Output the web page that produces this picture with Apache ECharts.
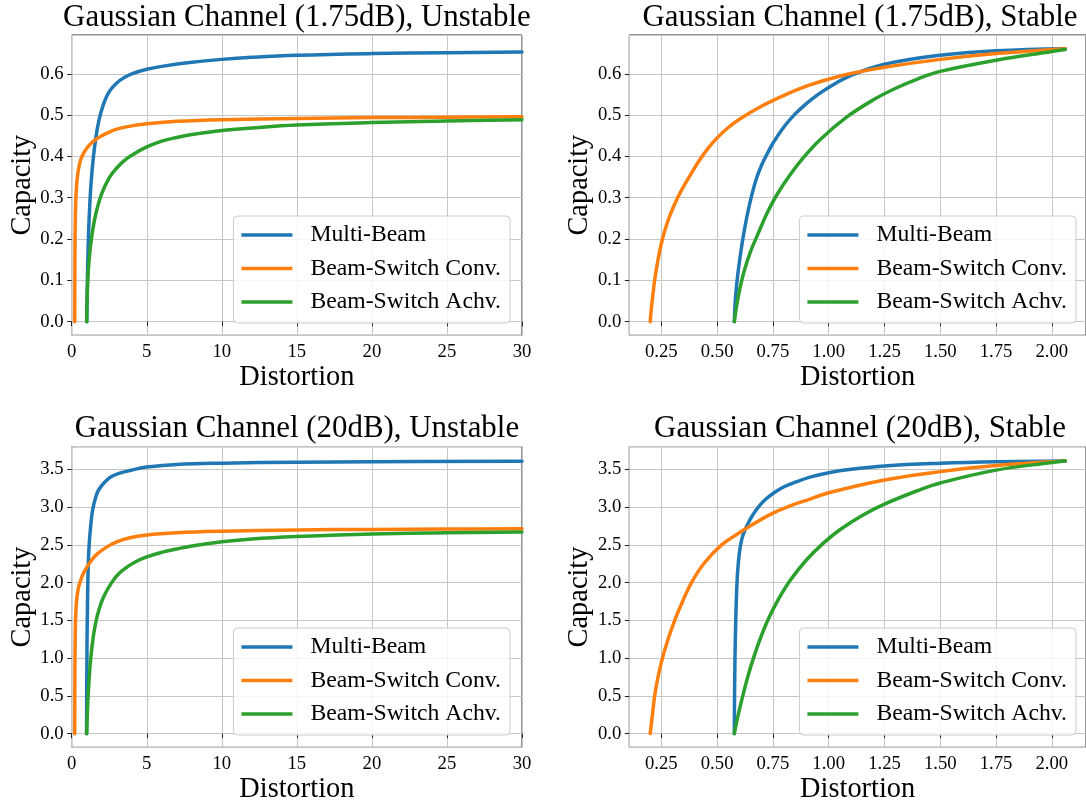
<!DOCTYPE html>
<html>
<head>
<meta charset="utf-8">
<script src="https://cdn.jsdelivr.net/npm/echarts@6/dist/echarts.min.js"></script>
<style>
html,body{margin:0;padding:0;background:#fff;}
#chart{width:1086px;height:806px;}
</style>
</head>
<body>
<div id="chart"></div>
<script>
// ---------------- data ----------------
const seriesNames = ['Multi-Beam', 'Beam-Switch Conv.', 'Beam-Switch Achv.'];
const panelTitles = [
  'Gaussian Channel (1.75dB), Unstable',
  'Gaussian Channel (1.75dB), Stable',
  'Gaussian Channel (20dB), Unstable',
  'Gaussian Channel (20dB), Stable'
];
const xAxisName = 'Distortion';
const yAxisName = 'Capacity';

// Panel 1: 1.75dB, Unstable  [distortion, capacity]
const lowUnstableMulti = [[1.0,0],[1.03,0.07],[1.07,0.14],[1.12,0.21],[1.2,0.28],[1.3,0.34],[1.45,0.4],[1.6,0.443],[1.8,0.485],[2.1,0.525],[2.5,0.557],[3,0.578],[3.5,0.591],[4,0.6],[5,0.611],[6,0.618],[8,0.628],[10,0.635],[12,0.64],[15,0.645],[20,0.649],[25,0.651],[30,0.653]];
const lowUnstableConv = [[0.2,0],[0.205,0.06],[0.21,0.11],[0.22,0.18],[0.24,0.245],[0.27,0.29],[0.3,0.315],[0.35,0.34],[0.42,0.362],[0.5,0.378],[0.6,0.392],[0.75,0.405],[1.0,0.42],[1.3,0.432],[1.6,0.441],[2.0,0.45],[2.5,0.459],[3,0.466],[4,0.474],[5,0.479],[7,0.485],[10,0.489],[15,0.492],[20,0.494],[25,0.495],[30,0.496]];
const lowUnstableAchv = [[1.0,0],[1.02,0.04],[1.05,0.08],[1.1,0.12],[1.2,0.165],[1.35,0.21],[1.6,0.26],[2.0,0.31],[2.5,0.348],[3.0,0.372],[3.5,0.39],[4.0,0.403],[5,0.423],[6,0.437],[7,0.446],[8,0.453],[10,0.463],[12,0.469],[15,0.476],[20,0.482],[25,0.486],[30,0.489]];

// Panel 2: 1.75dB, Stable
const lowStableMulti = [[0.577,0],[0.58,0.04],[0.585,0.075],[0.595,0.125],[0.612,0.19],[0.63,0.245],[0.65,0.295],[0.675,0.345],[0.7,0.38],[0.725,0.407],[0.75,0.432],[0.8,0.472],[0.85,0.503],[0.9,0.528],[0.95,0.549],[1.0,0.567],[1.1,0.596],[1.25,0.623],[1.5,0.645],[1.75,0.656],[2.06,0.661]];
const lowStableConv = [[0.2,0],[0.205,0.03],[0.21,0.055],[0.22,0.1],[0.235,0.15],[0.255,0.2],[0.28,0.245],[0.31,0.285],[0.34,0.318],[0.38,0.355],[0.42,0.39],[0.46,0.42],[0.5,0.445],[0.55,0.47],[0.6,0.49],[0.7,0.522],[0.8,0.548],[0.9,0.57],[1.0,0.587],[1.1,0.601],[1.25,0.616],[1.5,0.635],[1.75,0.649],[2.06,0.661]];
const lowStableAchv = [[0.577,0],[0.585,0.03],[0.6,0.075],[0.62,0.12],[0.65,0.17],[0.685,0.215],[0.72,0.258],[0.76,0.3],[0.82,0.35],[0.88,0.393],[0.96,0.44],[1.08,0.495],[1.2,0.537],[1.3,0.565],[1.4,0.588],[1.5,0.606],[1.75,0.633],[2.0,0.654],[2.06,0.659]];

// Panel 3: 20dB, Unstable
const highUnstableMulti = [[0.99,0],[1.0,0.5],[1.01,0.9],[1.025,1.3],[1.045,1.6],[1.07,1.95],[1.1,2.2],[1.14,2.42],[1.2,2.6],[1.28,2.78],[1.4,2.97],[1.6,3.13],[1.8,3.23],[2.2,3.33],[2.6,3.4],[3.2,3.45],[4.2,3.5],[5,3.53],[7,3.565],[10,3.582],[15,3.595],[20,3.6],[30,3.607]];
const highUnstableConv = [[0.2,0],[0.205,0.35],[0.21,0.65],[0.22,1.0],[0.24,1.35],[0.27,1.58],[0.32,1.75],[0.4,1.88],[0.5,1.97],[0.65,2.06],[0.8,2.13],[1.0,2.2],[1.3,2.29],[1.7,2.38],[2.4,2.48],[3.0,2.54],[3.8,2.59],[5,2.63],[7,2.66],[10,2.68],[15,2.698],[20,2.705],[25,2.71],[30,2.714]];
const highUnstableAchv = [[1.0,0],[1.02,0.15],[1.05,0.32],[1.11,0.55],[1.18,0.78],[1.27,1.0],[1.45,1.3],[1.69,1.55],[2.1,1.8],[2.73,2.02],[3.2,2.13],[3.65,2.2],[4.2,2.27],[5,2.34],[6,2.4],[7,2.445],[8,2.485],[10,2.54],[12,2.578],[15,2.61],[20,2.645],[25,2.66],[30,2.67]];

// Panel 4: 20dB, Stable
const highStableMulti = [[0.577,0],[0.578,0.5],[0.58,1.0],[0.583,1.45],[0.587,1.85],[0.592,2.15],[0.6,2.4],[0.61,2.57],[0.625,2.7],[0.645,2.82],[0.665,2.92],[0.69,3.02],[0.72,3.11],[0.76,3.2],[0.8,3.27],[0.85,3.33],[0.92,3.4],[1.0,3.455],[1.1,3.5],[1.25,3.545],[1.5,3.58],[1.75,3.6],[2.06,3.61]];
const highStableConv = [[0.2,0],[0.21,0.25],[0.22,0.5],[0.235,0.75],[0.255,1.0],[0.28,1.25],[0.31,1.5],[0.345,1.75],[0.385,2.0],[0.44,2.25],[0.52,2.5],[0.6,2.66],[0.653,2.76],[0.75,2.92],[0.83,3.02],[0.9,3.09],[1.0,3.19],[1.25,3.36],[1.5,3.47],[1.75,3.55],[2.06,3.61]];
const highStableAchv = [[0.577,0],[0.585,0.12],[0.6,0.32],[0.62,0.56],[0.64,0.78],[0.665,1.02],[0.695,1.27],[0.73,1.52],[0.775,1.78],[0.83,2.04],[0.9,2.3],[0.975,2.52],[1.05,2.7],[1.15,2.89],[1.25,3.04],[1.4,3.22],[1.5,3.32],[1.75,3.49],[2.0,3.59],[2.06,3.61]];

// Axis ranges and tick steps [min, max, step]
const unstableXRange = [0, 30, 5];
const stableXRange = [0.1064, 2.153, 0.25];
const lowYRange = [-0.033, 0.694, 0.1];
const highYRange = [-0.181, 3.80, 0.5];

// ---------------- chart ----------------
const colors = ['#1f77b4', '#ff7f0e', '#2ca02c'];
const FONT = 'Liberation Serif, Times New Roman, serif';

const panelData = [
  [lowUnstableMulti, lowUnstableConv, lowUnstableAchv],
  [lowStableMulti, lowStableConv, lowStableAchv],
  [highUnstableMulti, highUnstableConv, highUnstableAchv],
  [highStableMulti, highStableConv, highStableAchv]
];
const xRanges = [unstableXRange, stableXRange, unstableXRange, stableXRange];
const yRanges = [lowYRange, lowYRange, highYRange, highYRange];
const xDecimals = [0, 2, 0, 2];
const yDecimals = [1, 1, 1, 1];

const gridRects = [
  {left: 71.7, top: 35, width: 450.3, height: 300.3},
  {left: 629.3, top: 35, width: 461.7, height: 300.3},
  {left: 71.7, top: 446.7, width: 450.3, height: 300.6},
  {left: 629.3, top: 446.7, width: 461.7, height: 300.6}
];
const titlePos = [[296.9, 17.9], [860, 17.9], [296.9, 429.3], [860, 429.3]];
const legendPos = [
  {right: 576, bottom: 483},
  {right: 10, bottom: 483},
  {right: 576, bottom: 71},
  {right: 10, bottom: 71}
];

const spineColor = '#262626';
const grids = [], xAxes = [], yAxes = [], series = [], titles = [], legends = [];

function makeAxis(range, decimals, isX, gridIndex) {
  const step = range[2];
  return {
    type: 'value',
    gridIndex: gridIndex,
    min: range[0],
    max: range[1],
    minInterval: step,
    maxInterval: step,
    splitNumber: 12,
    name: isX ? xAxisName : yAxisName,
    nameLocation: 'middle',
    nameGap: isX ? 28 : 35,
    nameTextStyle: {fontFamily: FONT, fontSize: 28.4, color: '#000'},
    axisLine: {show: false},
    axisTick: {show: true, inside: false, length: 4.5, lineStyle: {color: spineColor, width: 1}},
    axisLabel: {
      show: true, margin: isX ? 7 : 8,
      fontFamily: FONT, fontSize: 18.7, color: '#000',
      showMinLabel: range[0] % step === 0,
      showMaxLabel: range[1] % step === 0,
      formatter: function (v) { return Number(v).toFixed(decimals); }
    },
    splitLine: {show: true, lineStyle: {color: '#c6c6c6', width: 1}}
  };
}

for (let p = 0; p < 4; p++) {
  grids.push(Object.assign({
    show: true, borderColor: spineColor, borderWidth: 1, backgroundColor: 'transparent', containLabel: false
  }, gridRects[p]));
  xAxes.push(makeAxis(xRanges[p], xDecimals[p], true, p));
  yAxes.push(makeAxis(yRanges[p], yDecimals[p], false, p));
  titles.push({
    text: panelTitles[p],
    left: titlePos[p][0], top: titlePos[p][1],
    textAlign: 'center', textVerticalAlign: 'middle', padding: 0,
    textStyle: {fontFamily: FONT, fontSize: 30.9, fontWeight: 'normal', color: '#000'}
  });
  legends.push(Object.assign({
    orient: 'vertical',
    data: seriesNames,
    icon: 'rect',
    itemWidth: 51, itemHeight: 3.5, itemGap: 9.5,
    padding: [7, 9, 9, 8],
    backgroundColor: 'rgba(255,255,255,0.8)',
    borderColor: '#cccccc', borderWidth: 1, borderRadius: 4,
    selectedMode: false,
    textStyle: {fontFamily: FONT, fontSize: 23.7, color: '#000', padding: [0, 0, 0, 13]}
  }, legendPos[p]));
  for (let s = 0; s < 3; s++) {
    series.push({
      type: 'line',
      name: seriesNames[s],
      xAxisIndex: p, yAxisIndex: p,
      data: panelData[p][s],
      symbol: 'none', showSymbol: false,
      smooth: 0.4,
      color: colors[s],
      lineStyle: {color: colors[s], width: 3.5, cap: 'round', join: 'round'},
      clip: true,
      z: 2 + s
    });
  }
}

const chart = echarts.init(document.getElementById('chart'), null, {renderer: 'canvas'});
chart.setOption({
  animation: false,
  backgroundColor: '#fff',
  title: titles,
  legend: legends,
  grid: grids,
  xAxis: xAxes,
  yAxis: yAxes,
  series: series
});
</script>
</body>
</html>
